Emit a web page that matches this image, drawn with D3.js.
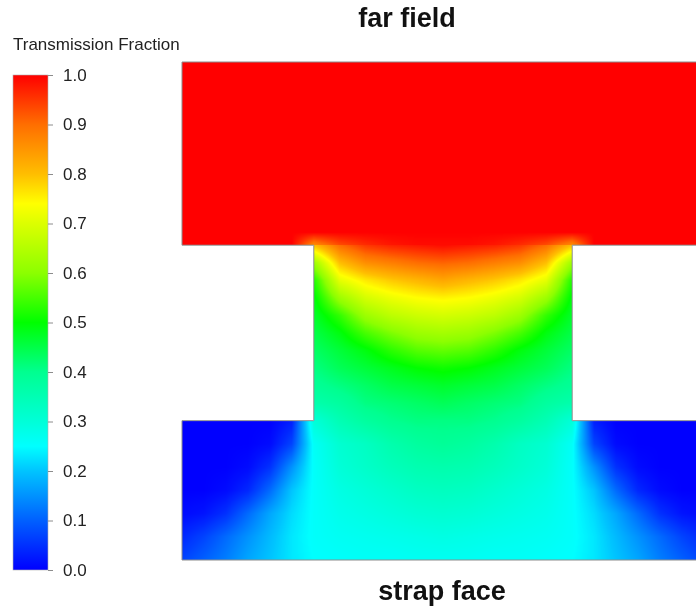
<!DOCTYPE html>
<meta charset="utf-8">
<style>
body { margin: 0; background: #fff; }
#chart { position: relative; width: 696px; height: 610px; }
#chart canvas, #chart svg { position: absolute; left: 0; top: 0; }
text { font-family: "Liberation Sans", Arial, sans-serif; }
.legend .tick line { stroke: #8c8c8c; }
.legend .tick text { font-size: 17px; fill: #222; }
.title { font-size: 27px; font-weight: bold; fill: #111; }
</style>
<body>
<div id="chart"></div>

<script src="https://d3js.org/d3.v7.min.js"></script>
<script>

// colour legend
var legendStops  = [0, 0.1, 0.2, 0.25, 0.3, 0.4, 0.5, 0.6, 0.7, 0.74, 0.8, 0.9, 1.0];
var legendColors = ["#0000ff", "#0060ff", "#00c4ff", "#00ffff", "#00ffd8", "#00ff90",
                    "#00ff00", "#8cff00", "#dcff00", "#ffff00", "#ffbe00", "#ff6e00", "#ff0000"];
var legendTicks  = [0, 0.1, 0.2, 0.3, 0.4, 0.5, 0.6, 0.7, 0.8, 0.9, 1.0];

// geometry (model units), strap face at y = 0
var channelLeft = 5.1, channelRight = 15.1, channelBottom = 5.4, channelTop = 12.2;
var domainRight = 20.2, domainTop = 19.3;

// bottom slab (strap side)
var bottomX = [0, 0.85, 1.7, 2.55, 3.4, 4.25, 5.1, 6.1, 7.1, 8.1, 9.1, 10.1,
               11.1, 12.1, 13.1, 14.1, 15.1, 15.95, 16.8, 17.65, 18.5, 19.35, 20.2];
var bottomY = [5.4, 4.5, 3.6, 2.7, 1.8, 0.9, 0];
var bottomValues = [
  [0, 0, 0, 0, 0, 0.03, 0.3, 0.35, 0.38, 0.40, 0.41, 0.41, 0.41, 0.40, 0.38, 0.35, 0.3, 0.03, 0, 0, 0, 0, 0],
  [0, 0, 0, 0, 0.01, 0.07, 0.26, 0.31, 0.33, 0.36, 0.38, 0.39, 0.38, 0.36, 0.33, 0.31, 0.26, 0.07, 0.01, 0, 0, 0, 0],
  [0, 0, 0, 0.01, 0.05, 0.15, 0.255, 0.3, 0.32, 0.34, 0.355, 0.36, 0.355, 0.34, 0.32, 0.3, 0.255, 0.15, 0.05, 0.01, 0, 0, 0],
  [0, 0, 0.01, 0.04, 0.11, 0.2, 0.255, 0.285, 0.3, 0.315, 0.33, 0.335, 0.33, 0.315, 0.3, 0.285, 0.255, 0.2, 0.11, 0.04, 0.01, 0, 0],
  [0.01, 0.02, 0.05, 0.11, 0.17, 0.22, 0.255, 0.275, 0.285, 0.295, 0.305, 0.31, 0.305, 0.295, 0.285, 0.275, 0.255, 0.22, 0.17, 0.11, 0.05, 0.02, 0.01],
  [0.04, 0.07, 0.11, 0.15, 0.19, 0.23, 0.255, 0.265, 0.27, 0.275, 0.28, 0.285, 0.28, 0.275, 0.27, 0.265, 0.255, 0.23, 0.19, 0.15, 0.11, 0.07, 0.04],
  [0.07, 0.1, 0.13, 0.17, 0.2, 0.23, 0.25, 0.255, 0.26, 0.26, 0.265, 0.265, 0.265, 0.26, 0.26, 0.255, 0.25, 0.23, 0.2, 0.17, 0.13, 0.1, 0.07]
];

// channel between the two slabs
var channelX = [5.1, 6.1, 7.1, 8.1, 9.1, 10.1, 11.1, 12.1, 13.1, 14.1, 15.1];
var channelY = [12.2, 11.52, 10.84, 10.16, 9.48, 8.8, 8.12, 7.44, 6.76, 6.08, 5.4];
var channelValues = [
  [0.8, 0.9, 0.95, 0.97, 0.98, 0.99, 0.98, 0.97, 0.95, 0.9, 0.8],
  [0.62, 0.8, 0.86, 0.88, 0.9, 0.91, 0.9, 0.88, 0.86, 0.8, 0.62],
  [0.52, 0.71, 0.76, 0.79, 0.81, 0.83, 0.81, 0.79, 0.76, 0.71, 0.52],
  [0.49, 0.62, 0.69, 0.72, 0.74, 0.75, 0.74, 0.72, 0.69, 0.62, 0.49],
  [0.47, 0.535, 0.62, 0.66, 0.68, 0.69, 0.68, 0.66, 0.62, 0.535, 0.47],
  [0.45, 0.49, 0.55, 0.59, 0.62, 0.63, 0.62, 0.59, 0.55, 0.49, 0.45],
  [0.43, 0.46, 0.49, 0.53, 0.56, 0.57, 0.56, 0.53, 0.49, 0.46, 0.43],
  [0.41, 0.44, 0.46, 0.48, 0.5, 0.51, 0.5, 0.48, 0.46, 0.44, 0.41],
  [0.39, 0.41, 0.43, 0.45, 0.46, 0.47, 0.46, 0.45, 0.43, 0.41, 0.39],
  [0.36, 0.38, 0.41, 0.42, 0.43, 0.44, 0.43, 0.42, 0.41, 0.38, 0.36],
  [0.3, 0.35, 0.38, 0.40, 0.41, 0.41, 0.41, 0.40, 0.38, 0.35, 0.3]
];

// far field slab
var topX = bottomX;
var topY = [19.3, 12.7, 12.2];
var topValues = [
  [1, 1, 1, 1, 1, 1, 1, 1, 1, 1, 1, 1, 1, 1, 1, 1, 1, 1, 1, 1, 1, 1, 1],
  [1, 1, 1, 1, 1, 1, 1, 1, 1, 1, 1, 1, 1, 1, 1, 1, 1, 1, 1, 1, 1, 1, 1],
  [1, 1, 1, 1, 1, 1, 0.86, 0.93, 0.96, 0.98, 0.99, 0.99, 0.99, 0.98, 0.96, 0.93, 0.86, 1, 1, 1, 1, 1, 1]
];

var W = 696, H = 610;

var x = d3.scaleLinear().domain([0, domainRight]).range([182, 704]);
var y = d3.scaleLinear().domain([0, domainTop]).range([560, 62]);

var color = d3.scaleLinear().domain(legendStops).range(legendColors).clamp(true);
var lut = d3.range(1001).map(function(i) { return d3.rgb(color(i / 1000)); });

var chart = d3.select("#chart");
var canvas = chart.append("canvas").attr("width", W).attr("height", H).node();
var ctx = canvas.getContext("2d");

function locate(arr, v) {
  var lo = Math.min(arr[0], arr[arr.length - 1]), hi = Math.max(arr[0], arr[arr.length - 1]);
  v = Math.max(lo, Math.min(hi, v));
  var i = 0;
  for (; i < arr.length - 2; i++) {
    if ((v - arr[i]) * (v - arr[i + 1]) <= 0) break;
  }
  return [i, (v - arr[i]) / (arr[i + 1] - arr[i])];
}

// paint one rectangular block of the field
function paintRegion(xs, ys, vals, x0, x1, y0, y1) {
  var px0 = Math.round(x(x0)), px1 = Math.min(W, Math.round(x(x1)));
  var py0 = Math.round(y(y1)), py1 = Math.round(y(y0));
  var w = px1 - px0, h = py1 - py0;
  var img = ctx.createImageData(w, h);
  var cols = d3.range(w).map(function(i) { return locate(xs, x.invert(px0 + i + 0.5)); });
  for (var j = 0; j < h; j++) {
    var r = locate(ys, y.invert(py0 + j + 0.5));
    var ra = vals[r[0]], rb = vals[r[0] + 1], ty = r[1];
    for (var i = 0; i < w; i++) {
      var c = cols[i], k = c[0], tx = c[1];
      var a = ra[k] + (ra[k + 1] - ra[k]) * tx;
      var b = rb[k] + (rb[k + 1] - rb[k]) * tx;
      var v = a + (b - a) * ty;
      var col = lut[Math.max(0, Math.min(1000, Math.round(v * 1000)))];
      var p = (j * w + i) * 4;
      img.data[p] = col.r; img.data[p + 1] = col.g; img.data[p + 2] = col.b; img.data[p + 3] = 255;
    }
  }
  ctx.putImageData(img, px0, py0);
}

paintRegion(topX, topY, topValues, 0, domainRight, channelTop, domainTop);
paintRegion(channelX, channelY, channelValues, channelLeft, channelRight, channelBottom, channelTop);
paintRegion(bottomX, bottomY, bottomValues, 0, domainRight, 0, channelBottom);

var svg = chart.append("svg").attr("width", W).attr("height", H);

// outline of the domain
var outline = [[0, domainTop], [domainRight, domainTop], [domainRight, channelTop], [channelRight, channelTop],
               [channelRight, channelBottom], [domainRight, channelBottom], [domainRight, 0], [0, 0],
               [0, channelBottom], [channelLeft, channelBottom], [channelLeft, channelTop], [0, channelTop]];
svg.append("path")
    .attr("d", d3.line().x(function(d) { return x(d[0]); }).y(function(d) { return y(d[1]); })(outline) + "Z")
    .attr("fill", "none")
    .attr("stroke", "#8c8c8c")
    .attr("stroke-width", 1);

// colour bar
var yLegend = d3.scaleLinear().domain([0, 1]).range([570, 75]);
var grad = svg.append("defs").append("linearGradient")
    .attr("id", "bar").attr("x1", 0).attr("y1", 1).attr("x2", 0).attr("y2", 0);
grad.selectAll("stop")
    .data(legendStops)
  .enter().append("stop")
    .attr("offset", function(d) { return d; })
    .attr("stop-color", function(d, i) { return legendColors[i]; });

svg.append("rect")
    .attr("x", 13).attr("y", yLegend(1))
    .attr("width", 35).attr("height", yLegend(0) - yLegend(1))
    .attr("fill", "url(#bar)")
    .attr("stroke", "#b0b0b0").attr("stroke-width", 0.6);

var legendAxis = svg.append("g")
    .attr("class", "legend")
    .attr("transform", "translate(48,0)")
    .call(d3.axisRight(yLegend).tickValues(legendTicks).tickFormat(d3.format(".1f")).tickSize(5).tickPadding(10));
legendAxis.select(".domain").remove();

svg.append("text")
    .attr("x", 13).attr("y", 50)
    .style("font-size", "17px").style("fill", "#222")
    .text("Transmission Fraction");

svg.append("text")
    .attr("class", "title")
    .attr("x", 407).attr("y", 27)
    .attr("text-anchor", "middle")
    .text("far field");

svg.append("text")
    .attr("class", "title")
    .attr("x", 442).attr("y", 600)
    .attr("text-anchor", "middle")
    .text("strap face");

</script>
</body>
